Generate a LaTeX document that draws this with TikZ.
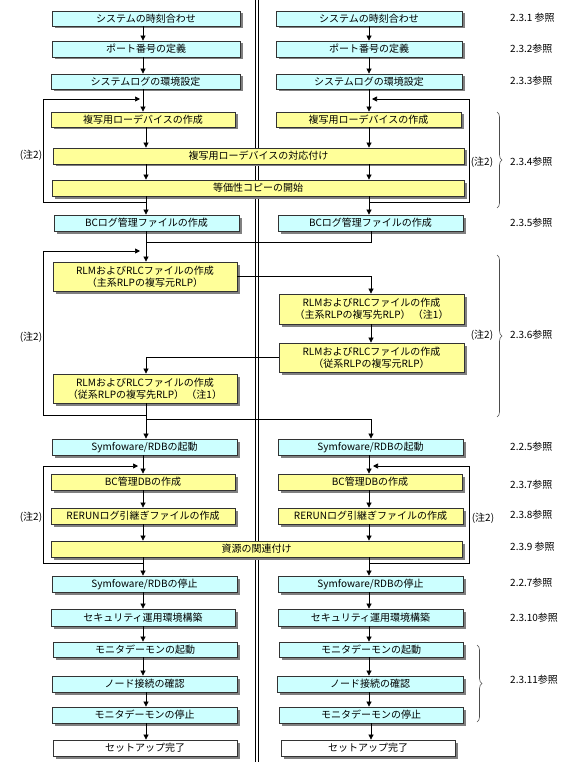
\documentclass[tikz,border=0pt]{standalone}
\usepackage{fontspec}
\setmainfont{Noto Sans CJK JP}
\usetikzlibrary{arrows.meta,shadows,decorations.pathreplacing}
\definecolor{cyanbox}{HTML}{CCFFFF}
\definecolor{yellowbox}{HTML}{FFFF99}
\definecolor{shadowgray}{HTML}{808080}
\definecolor{edgegray}{HTML}{333333}
\newcommand\mybox[7]{\node[#2, minimum width={(#5-#3)*1pt}, minimum height={(#6-#4)*1pt}] (#1) at ({(#3+#5)/2},{(#4+#6)/2}) {#7};}
\begin{document}
\begin{tikzpicture}[x=1pt,y=-1pt, font=\fontsize{10}{12}\selectfont,
  basebox/.style={draw=edgegray, line width=0.8pt, inner sep=0pt, align=center,
    drop shadow={shadow xshift=2.5pt, shadow yshift=-2.5pt, fill=shadowgray, opacity=1}},
  cbox/.style={basebox, fill=cyanbox},
  ybox/.style={basebox, fill=yellowbox},
  wbox/.style={basebox, fill=white},
  arr/.style={draw=black, line width=0.7pt, -{Triangle[width=5pt,length=5pt]}},
  ln/.style={draw=black, line width=0.7pt},
  brc/.style={draw=black!70, line width=0.6pt, decorate, decoration={brace, amplitude=5pt}},
  lbl/.style={anchor=west, inner sep=0pt},
  note/.style={inner sep=0pt}]
\fill[white] (0,0) rectangle (571,762);
\useasboundingbox (0,0) rectangle (571,762);
% centre separator
\draw[line width=0.8pt] (255.5,0) -- (255.5,762);
\draw[line width=1.8pt] (258.4,0) -- (258.4,762);
% x positions of the vertical connectors
\coordinate (ax) at (143,0);
\coordinate (bx) at (146,0);
\coordinate (cx) at (369,0);
\coordinate (dx) at (371,0);
% ---- left column
\mybox{L1}{cbox}{52}{11}{240}{26}{システムの時刻合わせ}
\mybox{L2}{cbox}{52}{41}{240}{57}{ポート番号の定義}
\mybox{L3}{cbox}{51}{74}{240}{89}{システムログの環境設定}
\mybox{L4}{ybox}{51}{112}{235}{127}{複写用ローデバイスの作成}
\mybox{W1}{ybox}{53}{148}{464}{164}{複写用ローデバイスの対応付け}
\mybox{W2}{ybox}{52}{180}{464}{196}{等価性コピーの開始}
\mybox{L5}{cbox}{54}{215}{239}{231}{BCログ管理ファイルの作成}
\mybox{L6}{ybox}{53}{262}{237}{291}{RLMおよびRLCファイルの作成\\（主系RLPの複写元RLP）}
\mybox{L7}{ybox}{53}{374}{237}{403}{RLMおよびRLCファイルの作成\\（従系RLPの複写先RLP） （注1）}
\mybox{L8}{cbox}{52}{439}{237}{455}{Symfoware/RDBの起動}
\mybox{L9}{ybox}{51}{474}{235}{490}{BC管理DBの作成}
\mybox{L10}{ybox}{51}{508}{235}{524}{RERUNログ引継ぎファイルの作成}
\mybox{W3}{ybox}{51}{541}{462}{557}{資源の関連付け}
\mybox{L11}{cbox}{52}{576}{237}{592}{Symfoware/RDBの停止}
\mybox{L12}{cbox}{51}{609}{235}{626}{セキュリティ運用環境構築}
\mybox{L13}{cbox}{53}{642}{237}{657}{モニタデーモンの起動}
\mybox{L14}{cbox}{52}{676}{237}{692}{ノード接続の確認}
\mybox{L15}{cbox}{52}{707}{237}{723}{モニタデーモンの停止}
\mybox{L16}{wbox}{53}{740}{237}{756}{セットアップ完了}
% ---- right column
\mybox{R1}{cbox}{276}{11}{462}{26}{システムの時刻合わせ}
\mybox{R2}{cbox}{276}{41}{462}{57}{ポート番号の定義}
\mybox{R3}{cbox}{276}{74}{462}{89}{システムログの環境設定}
\mybox{R4}{ybox}{276}{112}{461}{127}{複写用ローデバイスの作成}
\mybox{R5}{cbox}{278}{215}{463}{231}{BCログ管理ファイルの作成}
\mybox{R6}{ybox}{279}{294}{464}{324}{RLMおよびRLCファイルの作成\\（主系RLPの複写先RLP） （注1）}
\mybox{R7}{ybox}{279}{343}{464}{372}{RLMおよびRLCファイルの作成\\（従系RLPの複写元RLP）}
\mybox{R8}{cbox}{278}{439}{463}{455}{Symfoware/RDBの起動}
\mybox{R9}{ybox}{278}{474}{462}{490}{BC管理DBの作成}
\mybox{R10}{ybox}{278}{508}{463}{524}{RERUNログ引継ぎファイルの作成}
\mybox{R11}{cbox}{278}{576}{463}{592}{Symfoware/RDBの停止}
\mybox{R12}{cbox}{278}{609}{463}{626}{セキュリティ運用環境構築}
\mybox{R13}{cbox}{279}{642}{463}{657}{モニタデーモンの起動}
\mybox{R14}{cbox}{277}{676}{463}{692}{ノード接続の確認}
\mybox{R15}{cbox}{279}{707}{463}{723}{モニタデーモンの停止}
\mybox{R16}{wbox}{281}{740}{455}{756}{セットアップ完了}
% ---- section 2.3.1-2.3.4 connectors
\draw[arr] (L1.south -| ax) -- (L2.north -| ax);
\draw[arr] (L2.south -| ax) -- (L3.north -| ax);
\draw[arr] (L3.south -| ax) -- (L4.north -| ax);
\draw[arr] (L4.south -| bx) -- (W1.north -| bx);
\draw[arr] (W1.south -| bx) -- (W2.north -| bx);
\draw[arr] (W2.south -| bx) -- (L5.north -| bx);
\coordinate (lp1) at (43,99);
\coordinate (lp1b) at (43,202);
\coordinate (lp1t) at (140,99);
\draw[arr] (lp1b -| bx) -- (lp1b) -- (lp1) -- (lp1t);
\draw[arr] (R1.south -| cx) -- (R2.north -| cx);
\draw[arr] (R2.south -| cx) -- (R3.north -| cx);
\draw[arr] (R3.south -| cx) -- (R4.north -| cx);
\draw[arr] (R4.south -| cx) -- (W1.north -| cx);
\draw[arr] (W1.south -| cx) -- (W2.north -| cx);
\draw[arr] (W2.south -| cx) -- (R5.north -| cx);
\coordinate (rp1) at (469,99);
\coordinate (rp1b) at (469,202);
\coordinate (rp1t) at (372,99);
\draw[arr] (rp1b -| cx) -- (rp1b) -- (rp1) -- (rp1t);
% ---- section 2.3.5-2.3.6 connectors
\coordinate (j1) at (146,242);
\draw[ln] (R5.south -| dx) |- (j1);
\draw[arr] (L5.south -| bx) -- (L6.north -| bx);
\coordinate (lp2) at (43,251);
\coordinate (lp2b) at (43,415);
\coordinate (lp2t) at (140,251);
\draw[arr] (lp2b -| bx) -- (lp2b) -- (lp2) -- (lp2t);
\draw[arr] (L6.east) -| (R6.north -| dx);
\draw[arr] (R6.south -| dx) -- (R7.north -| dx);
\draw[arr] (R7.west) -| (L7.north -| bx);
\coordinate (j2) at (146,419);
\coordinate (j3) at (371,419);
\draw[ln] (L7.south -| bx) -- (j2) -- (j3);
\draw[arr] (j2) -- (L8.north -| j2);
\draw[arr] (j3) -- (R8.north -| j3);
% ---- section 2.3.7-2.3.9 connectors
\draw[arr] (L8.south -| ax) -- (L9.north -| ax);
\draw[arr] (L9.south -| ax) -- (L10.north -| ax);
\draw[arr] (L10.south -| ax) -- (W3.north -| ax);
\draw[arr] (W3.south -| ax) -- (L11.north -| ax);
\coordinate (lp3) at (43,466);
\coordinate (lp3b) at (43,563);
\coordinate (lp3t) at (138,466);
\draw[arr] (lp3b -| ax) -- (lp3b) -- (lp3) -- (lp3t);
\draw[arr] (R8.south -| cx) -- (R9.north -| cx);
\draw[arr] (R9.south -| cx) -- (R10.north -| cx);
\draw[arr] (R10.south -| cx) -- (W3.north -| cx);
\draw[arr] (W3.south -| cx) -- (R11.north -| cx);
\coordinate (rp3) at (469,466);
\coordinate (rp3b) at (469,563);
\coordinate (rp3t) at (373,466);
\draw[arr] (rp3b -| cx) -- (rp3b) -- (rp3) -- (rp3t);
% ---- remaining steps
\draw[arr] (L11.south -| ax) -- (L12.north -| ax);
\draw[arr] (L12.south -| ax) -- (L13.north -| ax);
\draw[arr] (L13.south -| ax) -- (L14.north -| ax);
\draw[arr] (L14.south -| bx) -- (L15.north -| bx);
\draw[arr] (L15.south -| bx) -- (L16.north -| bx);
\draw[arr] (R11.south -| cx) -- (R12.north -| cx);
\draw[arr] (R12.south -| cx) -- (R13.north -| cx);
\draw[arr] (R13.south -| cx) -- (R14.north -| cx);
\draw[arr] (R14.south -| cx) -- (R15.north -| cx);
\draw[arr] (R15.south -| dx) -- (R16.north -| dx);
% ---- notes (注2)
\node[note] (n1) at (31,155) {(注2)};
\node[note] (n2) at (482,162) {(注2)};
\node[note] (n3) at (31,337) {(注2)};
\node[note] (n4) at (482,335) {(注2)};
\node[note] (n5) at (31,517) {(注2)};
\node[note] (n6) at (483,518) {(注2)};
% ---- braces
\draw[brc] (497,112) -- (497,208);
\draw[brc] (497,255) -- (497,417);
\draw[brc] (477,645) -- (477,722);
% ---- reference labels
\node[lbl] (t1) at (510,18) {2.3.1 参照};
\node[lbl] (t2) at (510,49) {2.3.2参照};
\node[lbl] (t3) at (510,81) {2.3.3参照};
\node[lbl] (t4) at (510,162) {2.3.4参照};
\node[lbl] (t5) at (510,223) {2.3.5参照};
\node[lbl] (t6) at (510,335) {2.3.6参照};
\node[lbl] (t7) at (510,447) {2.2.5参照};
\node[lbl] (t8) at (510,485) {2.3.7参照};
\node[lbl] (t9) at (510,515) {2.3.8参照};
\node[lbl] (t10) at (510,547) {2.3.9 参照};
\node[lbl] (t11) at (510,583) {2.2.7参照};
\node[lbl] (t12) at (510,618) {2.3.10参照};
\node[lbl] (t13) at (510,680) {2.3.11参照};
\end{tikzpicture}
\end{document}
